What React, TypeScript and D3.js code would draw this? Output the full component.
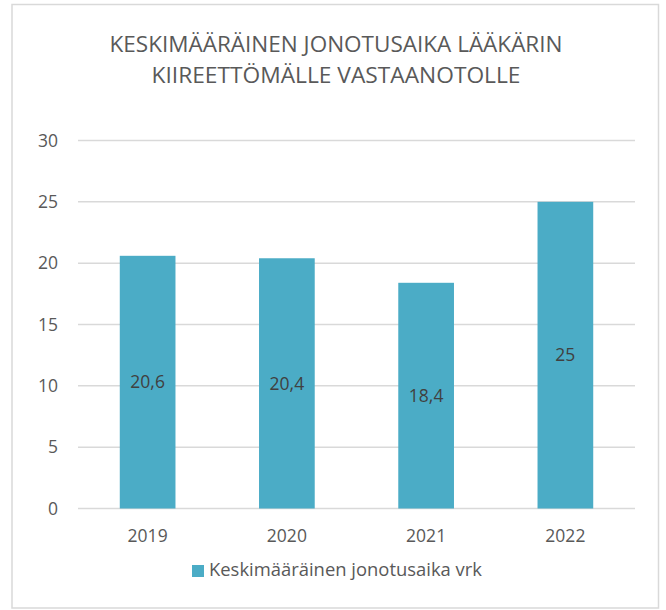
import React from "react";
import * as d3 from "d3";

const titleLines = ["KESKIMÄÄRÄINEN JONOTUSAIKA LÄÄKÄRIN", "KIIREETTÖMÄLLE VASTAANOTOLLE"];
const titleWidths = [453, 369];
const categories = ["2019", "2020", "2021", "2022"];
const values = [20.6, 20.4, 18.4, 25];
const valueLabels = ["20,6", "20,4", "18,4", "25"];
const yTicks = [0, 5, 10, 15, 20, 25, 30];
const seriesName = "Keskimääräinen jonotusaika vrk";

const W = 666;
const H = 610;
const FONT = "'Open Sans', sans-serif";
const TEXT = "#595959";
const BAR = "#4BACC6";
const GRID = "#D9D9D9";

export default function App() {
  const x = d3.scaleBand<string>().domain(categories).range([78, 635]).paddingInner(0.6).paddingOuter(0.3);
  const y = d3.scaleLinear().domain([0, 30]).range([508.5, 140.5]);

  return (
    <svg width={W} height={H} style={{ position: "absolute", left: 0, top: 0, background: "#fff" }}>
      <rect x={12} y={4.5} width={646.5} height={603.5} fill="#fff" stroke={GRID} strokeWidth={1.5} />
      {titleLines.map((t, i) => (
        <text
          key={i}
          x={336}
          y={52 + i * 31}
          textAnchor="middle"
          fontFamily={FONT}
          fontSize={22}
          fill={TEXT}
          textLength={titleWidths[i]}
          lengthAdjust="spacingAndGlyphs"
        >
          {t}
        </text>
      ))}
      {yTicks.map((t) => (
        <g key={t}>
          <line x1={78} x2={635} y1={y(t)} y2={y(t)} stroke={GRID} strokeWidth={1.5} />
          <text x={58} y={y(t)} dy="0.35em" textAnchor="end" fontFamily={FONT} fontSize={17.5} fill={TEXT}>
            {t}
          </text>
        </g>
      ))}
      {categories.map((c, i) => (
        <g key={c}>
          <rect x={x(c)} y={y(values[i])} width={x.bandwidth()} height={y(0) - y(values[i])} fill={BAR} />
          <text
            x={(x(c) ?? 0) + x.bandwidth() / 2}
            y={(y(values[i]) + y(0)) / 2}
            dy="0.35em"
            textAnchor="middle"
            fontFamily={FONT}
            fontSize={17.5}
            fill="#404040"
          >
            {valueLabels[i]}
          </text>
          <text
            x={(x(c) ?? 0) + x.bandwidth() / 2}
            y={542}
            textAnchor="middle"
            fontFamily={FONT}
            fontSize={17.5}
            fill={TEXT}
          >
            {c}
          </text>
        </g>
      ))}
      <rect x={192} y={565} width={12} height={12} fill={BAR} />
      <text x={209} y={576} fontFamily={FONT} fontSize={18} fill={TEXT} textLength={273} lengthAdjust="spacingAndGlyphs">
        {seriesName}
      </text>
    </svg>
  );
}
